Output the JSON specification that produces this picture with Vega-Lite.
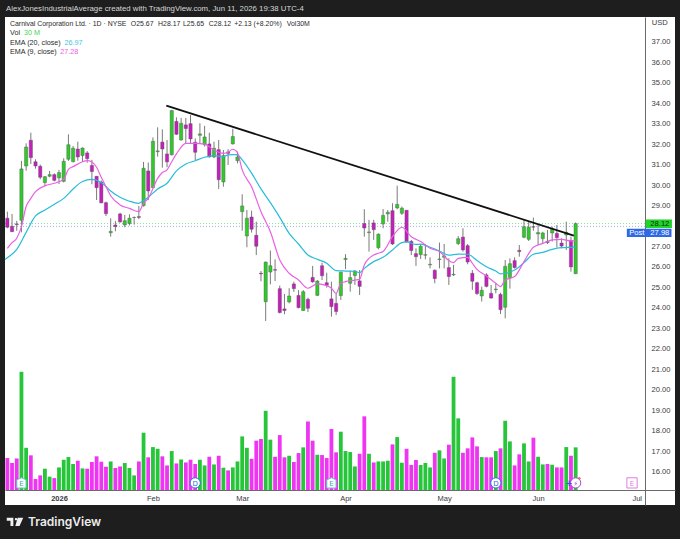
{
  "$schema": "https://vega.github.io/schema/vega-lite/v6.json",
  "description": "Carnival Corporation daily candles with EMA 20, EMA 9, volume and a falling trendline.",
  "width": 670,
  "height": 488,
  "autosize": "none",
  "padding": {"left": 5, "right": 5, "top": 17, "bottom": 34},
  "background": "#1e1e1e",
  "config": {"view": {"fill": "#ffffff", "stroke": null}},
  "title": {
    "text": "AlexJonesIndustrialAverage created with TradingView.com, Jun 11, 2026 19:38 UTC-4",
    "anchor": "start",
    "frame": "group",
    "font": "Liberation Sans",
    "fontSize": 7.8,
    "fontWeight": "normal",
    "color": "#d8d8d8",
    "offset": 4,
    "dx": 1
  },
  "datasets": {
    "candles": [
      {"i":0,"o":28.38,"h":28.70,"l":27.89,"c":27.94,"vol":22.5},
      {"i":1,"o":27.99,"h":28.59,"l":27.71,"c":27.72,"vol":19.0},
      {"i":2,"o":28.10,"h":28.25,"l":27.77,"c":28.07,"vol":22.2},
      {"i":3,"o":28.28,"h":31.18,"l":27.69,"c":30.79,"vol":83.1},
      {"i":4,"o":30.93,"h":32.04,"l":30.70,"c":31.86,"vol":29.7},
      {"i":5,"o":32.19,"h":32.56,"l":31.03,"c":31.34,"vol":24.4},
      {"i":6,"o":31.14,"h":31.26,"l":30.80,"c":30.93,"vol":7.7},
      {"i":7,"o":30.92,"h":31.00,"l":30.28,"c":30.38,"vol":10.3},
      {"i":8,"o":30.12,"h":30.44,"l":29.96,"c":30.41,"vol":15.0},
      {"i":9,"o":30.43,"h":30.69,"l":30.38,"c":30.51,"vol":9.4},
      {"i":10,"o":30.51,"h":30.57,"l":30.18,"c":30.23,"vol":8.4},
      {"i":11,"o":30.35,"h":30.74,"l":30.05,"c":30.61,"vol":15.9},
      {"i":12,"o":30.18,"h":31.31,"l":30.13,"c":31.16,"vol":21.3},
      {"i":13,"o":31.26,"h":32.48,"l":31.18,"c":31.97,"vol":23.2},
      {"i":14,"o":31.14,"h":31.91,"l":31.11,"c":31.80,"vol":18.3},
      {"i":15,"o":31.76,"h":32.12,"l":31.19,"c":31.37,"vol":20.6},
      {"i":16,"o":31.44,"h":31.84,"l":31.14,"c":31.81,"vol":15.2},
      {"i":17,"o":31.57,"h":31.66,"l":31.09,"c":31.29,"vol":15.0},
      {"i":18,"o":30.96,"h":31.23,"l":30.04,"c":30.66,"vol":19.7},
      {"i":19,"o":30.43,"h":30.44,"l":29.27,"c":29.87,"vol":23.7},
      {"i":20,"o":30.15,"h":30.22,"l":29.11,"c":29.13,"vol":19.9},
      {"i":21,"o":29.14,"h":29.19,"l":28.49,"c":28.60,"vol":16.4},
      {"i":22,"o":27.67,"h":28.38,"l":27.48,"c":27.74,"vol":20.1},
      {"i":23,"o":28.05,"h":28.25,"l":27.74,"c":27.97,"vol":15.5},
      {"i":24,"o":28.59,"h":28.65,"l":28.16,"c":28.20,"vol":16.6},
      {"i":25,"o":28.05,"h":28.54,"l":27.94,"c":28.26,"vol":19.0},
      {"i":26,"o":28.12,"h":28.57,"l":28.03,"c":28.38,"vol":15.5},
      {"i":27,"o":28.41,"h":28.46,"l":28.07,"c":28.42,"vol":10.3},
      {"i":28,"o":28.46,"h":28.98,"l":28.33,"c":28.42,"vol":20.1},
      {"i":29,"o":28.99,"h":31.13,"l":28.95,"c":30.82,"vol":40.3},
      {"i":30,"o":30.69,"h":31.10,"l":29.27,"c":29.71,"vol":23.0},
      {"i":31,"o":29.87,"h":32.33,"l":29.84,"c":32.14,"vol":30.2},
      {"i":32,"o":31.63,"h":32.82,"l":31.39,"c":31.67,"vol":29.0},
      {"i":33,"o":32.10,"h":32.72,"l":30.85,"c":31.76,"vol":23.7},
      {"i":34,"o":31.52,"h":32.20,"l":30.87,"c":31.13,"vol":17.3},
      {"i":35,"o":31.48,"h":33.67,"l":31.44,"c":33.64,"vol":27.4},
      {"i":36,"o":33.11,"h":33.31,"l":32.45,"c":32.48,"vol":18.7},
      {"i":37,"o":32.20,"h":33.28,"l":32.17,"c":33.02,"vol":21.5},
      {"i":38,"o":32.94,"h":33.28,"l":32.04,"c":32.76,"vol":19.4},
      {"i":39,"o":33.00,"h":33.42,"l":32.04,"c":32.25,"vol":21.3},
      {"i":40,"o":32.09,"h":32.28,"l":31.22,"c":31.60,"vol":18.3},
      {"i":41,"o":32.43,"h":33.02,"l":32.04,"c":32.50,"vol":21.3},
      {"i":42,"o":31.97,"h":32.89,"l":31.88,"c":32.35,"vol":17.3},
      {"i":43,"o":32.01,"h":32.56,"l":31.34,"c":31.37,"vol":23.4},
      {"i":44,"o":31.37,"h":32.12,"l":31.31,"c":31.80,"vol":18.0},
      {"i":45,"o":31.73,"h":32.20,"l":29.81,"c":30.26,"vol":24.1},
      {"i":46,"o":30.15,"h":31.71,"l":29.92,"c":31.44,"vol":15.7},
      {"i":47,"o":31.62,"h":31.75,"l":30.98,"c":31.55,"vol":13.8},
      {"i":48,"o":32.01,"h":32.75,"l":31.98,"c":32.37,"vol":15.9},
      {"i":49,"o":31.19,"h":31.63,"l":31.06,"c":31.37,"vol":20.1},
      {"i":50,"o":28.70,"h":29.55,"l":27.77,"c":28.98,"vol":37.7},
      {"i":51,"o":27.51,"h":28.78,"l":26.96,"c":28.38,"vol":29.7},
      {"i":52,"o":28.44,"h":28.75,"l":27.68,"c":27.84,"vol":22.0},
      {"i":53,"o":27.55,"h":28.21,"l":26.58,"c":27.01,"vol":34.7},
      {"i":54,"o":25.69,"h":25.80,"l":25.30,"c":25.66,"vol":35.8},
      {"i":55,"o":24.30,"h":26.26,"l":23.36,"c":26.24,"vol":55.7},
      {"i":56,"o":25.75,"h":26.80,"l":25.15,"c":26.06,"vol":35.4},
      {"i":57,"o":25.87,"h":26.37,"l":25.31,"c":25.84,"vol":23.4},
      {"i":58,"o":24.94,"h":25.09,"l":23.73,"c":23.77,"vol":38.6},
      {"i":59,"o":23.95,"h":24.68,"l":23.69,"c":23.87,"vol":23.0},
      {"i":60,"o":24.29,"h":24.96,"l":24.22,"c":24.58,"vol":24.1},
      {"i":61,"o":25.17,"h":25.28,"l":24.78,"c":24.94,"vol":19.7},
      {"i":62,"o":24.61,"h":24.87,"l":23.98,"c":24.01,"vol":26.0},
      {"i":63,"o":23.87,"h":24.87,"l":23.85,"c":24.79,"vol":30.0},
      {"i":64,"o":24.42,"h":24.50,"l":23.80,"c":23.98,"vol":48.2},
      {"i":65,"o":25.49,"h":26.05,"l":25.23,"c":25.27,"vol":34.7},
      {"i":66,"o":24.61,"h":25.36,"l":24.58,"c":25.31,"vol":24.8},
      {"i":67,"o":26.06,"h":26.21,"l":25.36,"c":25.57,"vol":24.6},
      {"i":68,"o":25.23,"h":25.72,"l":24.99,"c":25.10,"vol":22.5},
      {"i":69,"o":24.44,"h":25.28,"l":23.57,"c":24.06,"vol":42.9},
      {"i":70,"o":24.22,"h":24.71,"l":23.65,"c":23.82,"vol":26.5},
      {"i":71,"o":24.60,"h":25.77,"l":24.39,"c":25.74,"vol":41.0},
      {"i":72,"o":26.36,"h":26.62,"l":25.89,"c":26.42,"vol":27.4},
      {"i":73,"o":25.20,"h":25.82,"l":24.79,"c":25.48,"vol":26.7},
      {"i":74,"o":25.58,"h":25.85,"l":25.12,"c":25.80,"vol":16.6},
      {"i":75,"o":25.32,"h":25.85,"l":24.63,"c":25.05,"vol":25.5},
      {"i":76,"o":28.12,"h":28.82,"l":27.48,"c":27.90,"vol":51.8},
      {"i":77,"o":27.68,"h":28.30,"l":26.75,"c":27.71,"vol":25.5},
      {"i":78,"o":28.15,"h":28.30,"l":27.32,"c":27.82,"vol":19.4},
      {"i":79,"o":26.94,"h":27.64,"l":26.86,"c":27.60,"vol":20.1},
      {"i":80,"o":28.10,"h":28.83,"l":27.89,"c":28.52,"vol":20.1},
      {"i":81,"o":28.59,"h":28.78,"l":28.21,"c":28.67,"vol":20.6},
      {"i":82,"o":28.75,"h":29.11,"l":27.07,"c":27.12,"vol":32.1},
      {"i":83,"o":28.88,"h":29.97,"l":28.82,"c":29.06,"vol":37.2},
      {"i":84,"o":28.62,"h":28.95,"l":28.54,"c":28.87,"vol":19.2},
      {"i":85,"o":28.77,"h":28.78,"l":27.19,"c":27.22,"vol":29.0},
      {"i":86,"o":27.25,"h":27.32,"l":26.58,"c":26.80,"vol":17.6},
      {"i":87,"o":26.65,"h":26.91,"l":26.05,"c":26.50,"vol":21.1},
      {"i":88,"o":26.60,"h":27.12,"l":26.39,"c":27.01,"vol":17.6},
      {"i":89,"o":26.57,"h":27.12,"l":26.37,"c":26.60,"vol":19.0},
      {"i":90,"o":26.10,"h":26.47,"l":25.93,"c":26.13,"vol":15.9},
      {"i":91,"o":25.84,"h":25.88,"l":25.20,"c":25.43,"vol":26.2},
      {"i":92,"o":26.36,"h":27.19,"l":25.93,"c":26.39,"vol":27.9},
      {"i":93,"o":26.47,"h":27.12,"l":25.93,"c":26.54,"vol":22.2},
      {"i":94,"o":25.97,"h":26.42,"l":25.12,"c":25.53,"vol":31.9},
      {"i":95,"o":25.61,"h":26.10,"l":25.56,"c":25.64,"vol":79.6},
      {"i":96,"o":27.14,"h":27.51,"l":27.07,"c":27.38,"vol":50.4},
      {"i":97,"o":27.46,"h":27.89,"l":26.75,"c":26.83,"vol":26.2},
      {"i":98,"o":27.04,"h":27.12,"l":26.13,"c":26.24,"vol":29.3},
      {"i":99,"o":25.69,"h":25.85,"l":24.88,"c":25.30,"vol":37.0},
      {"i":100,"o":25.23,"h":25.28,"l":24.63,"c":24.70,"vol":30.7},
      {"i":101,"o":24.58,"h":25.04,"l":24.31,"c":24.86,"vol":23.2},
      {"i":102,"o":25.61,"h":25.69,"l":25.00,"c":25.05,"vol":23.0},
      {"i":103,"o":24.71,"h":25.12,"l":24.45,"c":24.48,"vol":23.0},
      {"i":104,"o":24.89,"h":25.20,"l":24.71,"c":24.92,"vol":27.4},
      {"i":105,"o":24.66,"h":24.74,"l":23.70,"c":23.91,"vol":29.3},
      {"i":106,"o":24.03,"h":26.34,"l":23.49,"c":26.03,"vol":48.7},
      {"i":107,"o":25.48,"h":26.42,"l":24.94,"c":26.16,"vol":34.2},
      {"i":108,"o":26.31,"h":26.47,"l":25.92,"c":25.97,"vol":17.3},
      {"i":109,"o":26.81,"h":27.07,"l":26.50,"c":26.75,"vol":25.1},
      {"i":110,"o":27.45,"h":28.29,"l":27.40,"c":27.97,"vol":32.8},
      {"i":111,"o":27.35,"h":28.21,"l":27.27,"c":27.94,"vol":20.1},
      {"i":112,"o":27.97,"h":28.41,"l":27.77,"c":27.94,"vol":36.8},
      {"i":113,"o":27.61,"h":28.05,"l":27.07,"c":27.68,"vol":23.4},
      {"i":114,"o":27.38,"h":27.72,"l":27.12,"c":27.66,"vol":18.0},
      {"i":115,"o":27.25,"h":27.81,"l":27.12,"c":27.19,"vol":18.3},
      {"i":116,"o":27.66,"h":27.97,"l":27.24,"c":27.85,"vol":17.8},
      {"i":117,"o":27.64,"h":28.05,"l":26.96,"c":27.43,"vol":15.9},
      {"i":118,"o":27.17,"h":27.40,"l":26.91,"c":27.02,"vol":15.9},
      {"i":119,"o":27.56,"h":28.21,"l":26.83,"c":27.69,"vol":30.2},
      {"i":120,"o":27.30,"h":27.48,"l":25.77,"c":26.00,"vol":24.1},
      {"i":121,"o":25.67,"h":28.17,"l":25.65,"c":28.12,"vol":30.0}
    ],
    "ema20": [
      {"i":-0.5,"v":26.36},{"i":0,"v":26.45},{"i":2,"v":26.86},{"i":4,"v":27.69},{"i":6,"v":28.49},{"i":8,"v":28.78},{"i":10,"v":29.06},{"i":12,"v":29.35},{"i":14,"v":29.81},{"i":16,"v":30.17},{"i":18,"v":30.28},{"i":20,"v":30.13},{"i":22,"v":29.71},{"i":24,"v":29.40},{"i":26,"v":29.21},{"i":28,"v":29.11},{"i":29,"v":29.24},{"i":30,"v":29.40},{"i":32,"v":29.81},{"i":34,"v":30.09},{"i":36,"v":30.69},{"i":38,"v":31.03},{"i":40,"v":31.19},{"i":42,"v":31.36},{"i":44,"v":31.44},{"i":46,"v":31.39},{"i":47,"v":31.47},{"i":48,"v":31.49},{"i":49,"v":31.47},{"i":50,"v":31.23},{"i":52,"v":30.58},{"i":54,"v":29.81},{"i":56,"v":29.14},{"i":58,"v":28.42},{"i":60,"v":27.64},{"i":62,"v":27.12},{"i":64,"v":26.58},{"i":66,"v":26.37},{"i":68,"v":26.18},{"i":70,"v":25.82},{"i":72,"v":25.80},{"i":74,"v":25.79},{"i":75,"v":25.72},{"i":76,"v":25.93},{"i":78,"v":26.26},{"i":80,"v":26.47},{"i":82,"v":26.83},{"i":84,"v":27.19},{"i":85,"v":27.22},{"i":87,"v":27.10},{"i":88,"v":27.11},{"i":90,"v":26.96},{"i":92,"v":26.78},{"i":94,"v":26.58},{"i":96,"v":26.63},{"i":98,"v":26.62},{"i":100,"v":26.31},{"i":102,"v":26.01},{"i":104,"v":25.80},{"i":105,"v":25.66},{"i":106,"v":25.69},{"i":108,"v":25.85},{"i":110,"v":26.21},{"i":112,"v":26.62},{"i":114,"v":26.71},{"i":116,"v":26.86},{"i":118,"v":26.94},{"i":120,"v":26.96},{"i":121,"v":26.97}
    ],
    "ema9": [
      {"i":0,"v":26.91},{"i":1,"v":27.19},{"i":2,"v":27.40},{"i":3,"v":27.97},{"i":4,"v":28.95},{"i":5,"v":29.35},{"i":6,"v":29.68},{"i":8,"v":29.96},{"i":10,"v":30.09},{"i":12,"v":30.28},{"i":13,"v":30.77},{"i":14,"v":30.90},{"i":16,"v":31.14},{"i":17,"v":31.19},{"i":18,"v":31.13},{"i":19,"v":30.87},{"i":20,"v":30.38},{"i":21,"v":29.92},{"i":22,"v":29.48},{"i":24,"v":29.03},{"i":26,"v":28.86},{"i":28,"v":28.70},{"i":29,"v":29.11},{"i":30,"v":29.35},{"i":32,"v":30.33},{"i":33,"v":30.61},{"i":34,"v":30.74},{"i":35,"v":31.14},{"i":36,"v":31.52},{"i":38,"v":32.04},{"i":40,"v":32.04},{"i":42,"v":32.00},{"i":44,"v":31.71},{"i":46,"v":31.55},{"i":47,"v":31.60},{"i":48,"v":31.75},{"i":49,"v":31.58},{"i":50,"v":30.74},{"i":52,"v":29.92},{"i":54,"v":28.70},{"i":56,"v":27.72},{"i":58,"v":26.34},{"i":60,"v":25.69},{"i":62,"v":25.36},{"i":64,"v":24.96},{"i":66,"v":25.17},{"i":68,"v":25.09},{"i":69,"v":24.96},{"i":70,"v":24.71},{"i":71,"v":25.20},{"i":72,"v":25.28},{"i":74,"v":25.36},{"i":75,"v":25.40},{"i":76,"v":26.10},{"i":78,"v":26.58},{"i":79,"v":26.67},{"i":80,"v":26.75},{"i":82,"v":27.48},{"i":84,"v":27.94},{"i":86,"v":27.48},{"i":87,"v":27.35},{"i":88,"v":27.24},{"i":90,"v":26.91},{"i":92,"v":26.75},{"i":94,"v":26.31},{"i":95,"v":26.21},{"i":96,"v":26.42},{"i":98,"v":26.47},{"i":99,"v":26.18},{"i":100,"v":25.88},{"i":102,"v":25.56},{"i":104,"v":25.20},{"i":105,"v":25.04},{"i":106,"v":25.36},{"i":108,"v":25.53},{"i":110,"v":26.26},{"i":112,"v":26.96},{"i":114,"v":27.15},{"i":116,"v":27.32},{"i":118,"v":27.35},{"i":120,"v":27.27},{"i":121,"v":27.28}
    ],
    "trend": [{"i":33.85,"v":33.88},{"i":120.6,"v":27.53}],
    "events": [
      {"i":3,"label":"E","kind":"earnings"},
      {"i":40,"label":"D","kind":"dividend"},
      {"i":69,"label":"E","kind":"earnings"},
      {"i":104,"label":"D","kind":"dividend"},
      {"i":121,"label":"⚡","kind":"news"},
      {"i":133,"label":"E","kind":"next earnings"}
    ]
  },
  "encoding": {
    "x": {
      "field": "i",
      "type": "quantitative",
      "scale": {"domain": [-0.5, 142.15], "nice": false, "zero": false, "padding": 0},
      "axis": {
        "title": null,
        "orient": "bottom",
        "offset": -15,
        "values": [11, 31, 50, 72, 93, 113, 134],
        "labelExpr": "{'11':'2026','31':'Feb','50':'Mar','72':'Apr','93':'May','113':'Jun','134':'Jul'}[datum.value]",
        "labelFont": "Liberation Sans",
        "labelFontSize": 7.5,
        "labelFontWeight": {"condition": {"test": "datum.value == 11", "value": "bold"}, "value": "normal"},
        "labelColor": "#3a3a3a",
        "labelPadding": 4,
        "labelOverlap": false,
        "labelFlush": false,
        "ticks": false,
        "grid": false,
        "domainColor": "#6a6a6a",
        "domainWidth": 1
      }
    }
  },
  "resolve": {"scale": {"y": "independent"}},
  "layer": [
    {
      "data": {"name": "candles"},
      "mark": {"type": "bar", "orient": "vertical", "width": 3.8},
      "encoding": {
        "y": {"field": "vol", "type": "quantitative", "stack": null, "axis": null, "scale": {"domain": [-10.5, 332.4], "nice": false, "zero": false}},
        "color": {"condition": {"test": "datum.c >= datum.o", "value": "#26c53a"}, "value": "#ee35f2"}
      }
    },
    {
      "resolve": {"axis": {"y": "independent"}},
      "layer": [
        {
          "data": {"values": [{"i":-0.5,"i2":135.9,"v":28.12}]},
          "mark": {"type": "rule", "color": "#67d87a", "strokeDash": [1, 2], "strokeWidth": 0.8},
          "encoding": {
            "x2": {"field": "i2"},
            "y": {"field": "v", "type": "quantitative", "scale": {"domain": [14.37, 38.21], "nice": false, "zero": false},
              "axis": {
                "title": null,
                "orient": "right",
                "offset": -30,
                "values": [16,17,18,19,20,21,22,23,24,25,26,27,29,30,31,32,33,34,35,36,37],
                "format": ".2f",
                "labelFont": "Liberation Sans",
                "labelFontSize": 7.6,
                "labelColor": "#3a3a3a",
                "labelPadding": 6,
                "labelOverlap": false,
                "ticks": false,
                "grid": false,
                "domainColor": "#6a6a6a",
                "domainWidth": 1
              }
            }
          }
        },
        {
          "data": {"values": [{"i":-0.5,"i2":135.9,"v":27.98}]},
          "mark": {"type": "rule", "color": "#7fa4e8", "strokeDash": [1, 2], "strokeWidth": 0.8},
          "encoding": {
            "x2": {"field": "i2"},
            "y": {"field": "v", "type": "quantitative", "axis": null, "scale": {"domain": [14.37, 38.21], "nice": false, "zero": false}}
          }
        },
        {
          "data": {"name": "candles"},
          "mark": {"type": "rule", "color": "#7a7a7a", "strokeWidth": 1},
          "encoding": {
            "y": {"field": "l", "type": "quantitative", "axis": null, "scale": {"domain": [14.37, 38.21], "nice": false, "zero": false}},
            "y2": {"field": "h"}
          }
        },
        {
          "data": {"name": "candles"},
          "mark": {"type": "bar", "orient": "vertical", "width": 3.3, "stroke": "#555555", "strokeWidth": 0.4},
          "encoding": {
            "y": {"field": "o", "type": "quantitative", "stack": null, "axis": null, "scale": {"domain": [14.37, 38.21], "nice": false, "zero": false}},
            "y2": {"field": "c"},
            "color": {"condition": {"test": "datum.c >= datum.o", "value": "#2fc92a"}, "value": "#c41fbd"}
          }
        },
        {
          "data": {"name": "ema20"},
          "mark": {"type": "line", "color": "#27bcd8", "strokeWidth": 1.2, "interpolate": "monotone"},
          "encoding": {
            "y": {"field": "v", "type": "quantitative", "axis": null, "scale": {"domain": [14.37, 38.21], "nice": false, "zero": false}}
          }
        },
        {
          "data": {"name": "ema9"},
          "mark": {"type": "line", "color": "#ea60e4", "strokeWidth": 1.2, "interpolate": "monotone"},
          "encoding": {
            "y": {"field": "v", "type": "quantitative", "axis": null, "scale": {"domain": [14.37, 38.21], "nice": false, "zero": false}}
          }
        },
        {
          "data": {"name": "trend"},
          "mark": {"type": "line", "color": "#111111", "strokeWidth": 1.8},
          "encoding": {
            "y": {"field": "v", "type": "quantitative", "axis": null, "scale": {"domain": [14.37, 38.21], "nice": false, "zero": false}}
          }
        },
        {
          "data": {"values": [{"i":135.9,"i2":141.5,"v":28.32,"v2":27.90}]},
          "mark": {"type": "rect", "color": "#22d32a"},
          "encoding": {
            "x2": {"field": "i2"},
            "y": {"field": "v", "type": "quantitative", "axis": null, "scale": {"domain": [14.37, 38.21], "nice": false, "zero": false}},
            "y2": {"field": "v2"}
          }
        },
        {
          "data": {"values": [{"i":131.9,"i2":141.4,"v":27.87,"v2":27.46}]},
          "mark": {"type": "rect", "color": "#2f68e6"},
          "encoding": {
            "x2": {"field": "i2"},
            "y": {"field": "v", "type": "quantitative", "axis": null, "scale": {"domain": [14.37, 38.21], "nice": false, "zero": false}},
            "y2": {"field": "v2"}
          }
        },
        {
          "data": {"values": [{"i":136.9,"v":28.11,"t":"28.12"}]},
          "mark": {"type": "text", "align": "left", "baseline": "middle", "font": "Liberation Sans", "fontSize": 7.6, "color": "#0b2a0b"},
          "encoding": {
            "y": {"field": "v", "type": "quantitative", "axis": null, "scale": {"domain": [14.37, 38.21], "nice": false, "zero": false}},
            "text": {"field": "t"}
          }
        },
        {
          "data": {"values": [{"i":132.4,"v":27.665,"t":"Post"},{"i":136.9,"v":27.665,"t":"27.98"}]},
          "mark": {"type": "text", "align": "left", "baseline": "middle", "font": "Liberation Sans", "fontSize": 7.6, "color": "#ffffff"},
          "encoding": {
            "y": {"field": "v", "type": "quantitative", "axis": null, "scale": {"domain": [14.37, 38.21], "nice": false, "zero": false}},
            "text": {"field": "t"}
          }
        },
        {
          "data": {"values": [{"i":137.2,"v":37.93,"t":"USD"}]},
          "mark": {"type": "text", "align": "left", "baseline": "middle", "font": "Liberation Sans", "fontSize": 7.6, "color": "#3a3a3a"},
          "encoding": {
            "y": {"field": "v", "type": "quantitative", "axis": null, "scale": {"domain": [14.37, 38.21], "nice": false, "zero": false}},
            "text": {"field": "t"}
          }
        },
        {
          "data": {"values": [
            {"i":0.57,"v":37.87,"t":"Carnival Corporation Ltd. · 1D · NYSE"},
            {"i":26.3,"v":37.87,"t":"O25.67"},
            {"i":32.1,"v":37.87,"t":"H28.17"},
            {"i":37.4,"v":37.87,"t":"L25.65"},
            {"i":42.9,"v":37.87,"t":"C28.12"},
            {"i":48.3,"v":37.87,"t":"+2.13 (+8.20%)"},
            {"i":59.5,"v":37.87,"t":"Vol30M"}
          ]},
          "mark": {"type": "text", "align": "left", "baseline": "middle", "font": "Liberation Sans", "fontSize": 6.9, "color": "#2a2a2a"},
          "encoding": {
            "y": {"field": "v", "type": "quantitative", "axis": null, "scale": {"domain": [14.37, 38.21], "nice": false, "zero": false}},
            "text": {"field": "t"}
          }
        },
        {
          "data": {"values": [
            {"i":0.57,"v":37.41,"t":"Vol"},
            {"i":0.57,"v":36.94,"t":"EMA (20, close)"},
            {"i":0.57,"v":36.48,"t":"EMA (9, close)"}
          ]},
          "mark": {"type": "text", "align": "left", "baseline": "middle", "font": "Liberation Sans", "fontSize": 7.2, "color": "#2a2a2a"},
          "encoding": {
            "y": {"field": "v", "type": "quantitative", "axis": null, "scale": {"domain": [14.37, 38.21], "nice": false, "zero": false}},
            "text": {"field": "t"}
          }
        },
        {
          "data": {"values": [{"i":3.55,"v":37.41,"t":"30 M"}]},
          "mark": {"type": "text", "align": "left", "baseline": "middle", "font": "Liberation Sans", "fontSize": 7.2, "color": "#3fd454"},
          "encoding": {
            "y": {"field": "v", "type": "quantitative", "axis": null, "scale": {"domain": [14.37, 38.21], "nice": false, "zero": false}},
            "text": {"field": "t"}
          }
        },
        {
          "data": {"values": [{"i":12.17,"v":36.94,"t":"26.97"}]},
          "mark": {"type": "text", "align": "left", "baseline": "middle", "font": "Liberation Sans", "fontSize": 7.2, "color": "#3cc6e0"},
          "encoding": {
            "y": {"field": "v", "type": "quantitative", "axis": null, "scale": {"domain": [14.37, 38.21], "nice": false, "zero": false}},
            "text": {"field": "t"}
          }
        },
        {
          "data": {"values": [{"i":11.28,"v":36.48,"t":"27.28"}]},
          "mark": {"type": "text", "align": "left", "baseline": "middle", "font": "Liberation Sans", "fontSize": 7.2, "color": "#ea60e4"},
          "encoding": {
            "y": {"field": "v", "type": "quantitative", "axis": null, "scale": {"domain": [14.37, 38.21], "nice": false, "zero": false}},
            "text": {"field": "t"}
          }
        },
        {
          "data": {"name": "events"},
          "transform": [{"calculate": "15.45", "as": "v"}],
          "mark": {"type": "point", "filled": true, "fill": "#ffffff", "size": 105, "strokeWidth": 1, "opacity": 1},
          "encoding": {
            "y": {"field": "v", "type": "quantitative", "axis": null, "scale": {"domain": [14.37, 38.21], "nice": false, "zero": false}},
            "shape": {"field": "kind", "type": "nominal", "legend": null, "scale": {
              "domain": ["earnings", "dividend", "news", "next earnings"],
              "range": ["M-0.9 -0.6L0 -1L0.9 -0.6V1H-0.9Z", "circle", "circle", "M-1 -1H1V1H-1Z"]
            }},
            "stroke": {"field": "kind", "type": "nominal", "legend": null, "scale": {
              "domain": ["earnings", "dividend", "news", "next earnings"],
              "range": ["#62c6c0", "#2f6fe6", "#a04bd0", "#e47ae4"]
            }}
          }
        },
        {
          "data": {"name": "events"},
          "transform": [{"calculate": "15.42", "as": "v"}],
          "mark": {"type": "text", "align": "center", "baseline": "middle", "font": "DejaVu Sans", "fontSize": 7},
          "encoding": {
            "y": {"field": "v", "type": "quantitative", "axis": null, "scale": {"domain": [14.37, 38.21], "nice": false, "zero": false}},
            "text": {"field": "label"},
            "color": {"field": "kind", "type": "nominal", "legend": null, "scale": {
              "domain": ["earnings", "dividend", "news", "next earnings"],
              "range": ["#3fa8a4", "#2f6fe6", "#a04bd0", "#e47ae4"]
            }}
          }
        },
        {
          "data": {"values": [{"i":119.6,"v":15.38,"t":"+"}]},
          "mark": {"type": "text", "align": "center", "baseline": "middle", "font": "DejaVu Sans", "fontWeight": "bold", "fontSize": 8, "color": "#4f46e5"},
          "encoding": {
            "y": {"field": "v", "type": "quantitative", "axis": null, "scale": {"domain": [14.37, 38.21], "nice": false, "zero": false}},
            "text": {"field": "t"}
          }
        },
        {
          "data": {"values": [{"i":121.8,"v":15.68}]},
          "mark": {"type": "point", "shape": "circle", "filled": true, "size": 6, "color": "#e5343d"},
          "encoding": {
            "y": {"field": "v", "type": "quantitative", "axis": null, "scale": {"domain": [14.37, 38.21], "nice": false, "zero": false}}
          }
        },
        {
          "data": {"values": [{"i":1.63,"v":13.54}]},
          "mark": {
            "type": "point",
            "shape": "M-1 -0.5H-0.2V0.5H-0.55V-0.14H-1Z M0.32 -0.5H1L0.55 0.5H0.04Z M-0.02 -0.33A0.14 0.14 0 1 0 0.26 -0.33A0.14 0.14 0 1 0 -0.02 -0.33Z",
            "filled": true,
            "size": 272,
            "color": "#f0f0f0",
            "opacity": 1
          },
          "encoding": {
            "y": {"field": "v", "type": "quantitative", "axis": null, "scale": {"domain": [14.37, 38.21], "nice": false, "zero": false}}
          }
        },
        {
          "data": {"values": [{"i":4.4,"v":13.54,"t":"TradingView"}]},
          "mark": {"type": "text", "align": "left", "baseline": "middle", "font": "Inter", "fontWeight": 600, "fontSize": 12, "color": "#ececec"},
          "encoding": {
            "y": {"field": "v", "type": "quantitative", "axis": null, "scale": {"domain": [14.37, 38.21], "nice": false, "zero": false}},
            "text": {"field": "t"}
          }
        }
      ]
    }
  ]
}
